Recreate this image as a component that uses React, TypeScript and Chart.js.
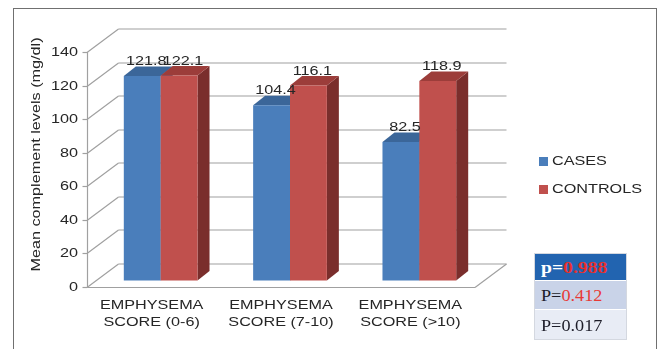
import { useEffect, useRef } from "react";
import { Chart, registerables } from "chart.js";

Chart.register(...registerables);

// ---- data ----
const categories: string[][] = [
  ["EMPHYSEMA", "SCORE (0-6)"],
  ["EMPHYSEMA", "SCORE (7-10)"],
  ["EMPHYSEMA", "SCORE (>10)"],
];
const seriesNames = ["CASES", "CONTROLS"];
const casesValues = [121.8, 104.4, 82.5];
const controlsValues = [122.1, 116.1, 118.9];
const yMax = 140;
const yStep = 20;
const yTitle = "Mean complement levels (mg/dl)";
const pPrefixes = ["p=", "P=", "P="];
const pValues = ["0.988", "0.412", "0.017"];

// ---- styling ----
const W = 661;
const H = 349;
const FONT = '"Liberation Sans", Arial, sans-serif';
const TEXT_STRETCH = 1.2;
const GRID = "#a0a0a0";
const TEXT = "#262626";
// colours per series: front, top, side
const faces = [
  { front: "#4a7ebb", top: "#3b6699", side: "#2f5380" },
  { front: "#c0504d", top: "#9c3d3a", side: "#7a2e2c" },
];
// depth of the chart box and of the bars
const DX = 31.5;
const DY = -23.5;
const FX = 9;
const FY = -6.5;
const SX = 12;
const SY = -9.5;

function wideText(
  ctx: CanvasRenderingContext2D,
  text: string,
  x: number,
  y: number,
  align: CanvasTextAlign,
  baseline: CanvasTextBaseline
) {
  ctx.save();
  ctx.translate(x, y);
  ctx.scale(TEXT_STRETCH, 1);
  ctx.textAlign = align;
  ctx.textBaseline = baseline;
  ctx.fillText(text, 0, 0);
  ctx.restore();
}

function line(ctx: CanvasRenderingContext2D, x0: number, y0: number, x1: number, y1: number) {
  ctx.beginPath();
  ctx.moveTo(x0, y0);
  ctx.lineTo(x1, y1);
  ctx.stroke();
}

function poly(ctx: CanvasRenderingContext2D, pts: number[][], fill: string) {
  ctx.beginPath();
  ctx.moveTo(pts[0][0], pts[0][1]);
  for (let i = 1; i < pts.length; i++) ctx.lineTo(pts[i][0], pts[i][1]);
  ctx.closePath();
  ctx.fillStyle = fill;
  ctx.fill();
}

const box3d = {
  id: "box3d",
  beforeDatasetsDraw(chart: any) {
    const { ctx, chartArea: a, scales } = chart;
    const y = scales.y;
    ctx.save();
    ctx.strokeStyle = GRID;
    ctx.lineWidth = 1.2;
    ctx.font = `13.5px ${FONT}`;
    ctx.fillStyle = TEXT;

    // back wall grid, side wall diagonals, tick marks and tick labels
    y.ticks.forEach((t: any) => {
      const py = Math.round(y.getPixelForValue(t.value)) + 0.5;
      line(ctx, a.left + DX, py + DY, a.right + DX, py + DY);
      line(ctx, a.left, py, a.left + DX, py + DY);
      line(ctx, a.left - 4.5, py, a.left, py);
      wideText(ctx, String(t.value), a.left - 9, py, "right", "middle");
    });
    // front vertical axis and floor
    const bx = Math.round(a.left) + 0.5;
    const by = Math.round(a.bottom) + 0.5;
    line(ctx, bx, a.top, bx, by);
    line(ctx, bx, by, a.right, by);
    line(ctx, a.right, by, a.right + DX, by + DY);

    // 3D bars
    const n = chart.data.labels.length;
    for (let i = 0; i < n; i++) {
      chart.data.datasets.forEach((ds: any, d: number) => {
        const el = chart.getDatasetMeta(d).data[i];
        const c = faces[d];
        const x0 = el.x - el.width / 2 + FX;
        const x1 = x0 + el.width;
        const yt = el.y + FY;
        const yb = el.base + FY;
        poly(ctx, [[x1, yb], [x1 + SX, yb + SY], [x1 + SX, yt + SY], [x1, yt]], c.side);
        poly(ctx, [[x0, yt], [x0 + SX, yt + SY], [x1 + SX, yt + SY], [x1, yt]], c.top);
        poly(ctx, [[x0, yt], [x1, yt], [x1, yb], [x0, yb]], c.front);
      });
    }
    // value labels above each bar
    ctx.fillStyle = TEXT;
    for (let i = 0; i < n; i++) {
      chart.data.datasets.forEach((ds: any, d: number) => {
        const el = chart.getDatasetMeta(d).data[i];
        const cx = el.x + FX + SX / 2 - 2;
        const ty = el.y + FY + SY - 1.5;
        wideText(ctx, ds.data[i].toFixed(1), cx, ty, "center", "alphabetic");
      });
    }
    ctx.restore();
    return false;
  },
  afterDraw(chart: any) {
    const { ctx, chartArea: a, scales } = chart;
    const x = scales.x;
    ctx.save();
    ctx.fillStyle = TEXT;
    ctx.font = `13.5px ${FONT}`;
    // category labels
    chart.data.labels.forEach((lab: string[], i: number) => {
      const px = x.getPixelForTick(i);
      lab.forEach((s, k) => wideText(ctx, s, px, a.bottom + 18 + k * 17, "center", "middle"));
    });
    // y axis title
    ctx.save();
    ctx.translate(36.5, 154.5);
    ctx.rotate(-Math.PI / 2);
    wideText(ctx, yTitle, 0, 0, "center", "middle");
    ctx.restore();
    // legend
    chart.data.datasets.forEach((ds: any, d: number) => {
      const cy = 161.5 + d * 28;
      ctx.fillStyle = ds.backgroundColor;
      ctx.fillRect(539, cy - 4.5, 9, 9);
      ctx.fillStyle = TEXT;
      wideText(ctx, ds.label, 552, cy, "left", "middle");
    });
    ctx.restore();
  },
};

export default function App() {
  const ref = useRef<HTMLCanvasElement | null>(null);

  useEffect(() => {
    if (!ref.current) return;
    const chart = new Chart(ref.current, {
      type: "bar",
      data: {
        labels: categories,
        datasets: [
          { label: seriesNames[0], data: casesValues, backgroundColor: faces[0].front },
          { label: seriesNames[1], data: controlsValues, backgroundColor: faces[1].front },
        ],
      },
      options: {
        responsive: false,
        animation: false,
        devicePixelRatio: 1,
        layout: { padding: { top: 52, right: 186, bottom: 0, left: 0 } },
        datasets: { bar: { categoryPercentage: 0.57, barPercentage: 1 } },
        plugins: { legend: { display: false }, tooltip: { enabled: false } },
        scales: {
          x: {
            grid: { display: false },
            border: { display: false },
            ticks: { display: false },
            afterFit: (s: any) => {
              s.height = 62;
            },
          },
          y: {
            min: 0,
            max: yMax,
            ticks: { display: false, stepSize: yStep },
            grid: { display: false },
            border: { display: false },
            afterFit: (s: any) => {
              s.width = 87;
            },
          },
        },
      } as any,
      plugins: [box3d],
    });
    return () => chart.destroy();
  }, []);

  const rowBg = ["#2264b0", "#c9d3e8", "#e8ecf5"];
  const rowH = [26, 29, 30];
  const prefixColor = ["#ffffff", "#1c1c28", "#1c1c28"];
  const valueColor = ["#e8302c", "#e83a36", "#1c1c28"];

  return (
    <div
      style={{
        position: "fixed",
        left: 0,
        top: 0,
        width: W,
        height: H,
        overflow: "hidden",
        background: "#ffffff",
      }}
    >
      <canvas ref={ref} width={W} height={H} style={{ position: "absolute", left: 0, top: 0 }} />
      <div
        style={{
          position: "absolute",
          left: 12.5,
          top: 7.5,
          width: 644,
          height: 400,
          border: "1.5px solid #707070",
          boxSizing: "border-box",
          pointerEvents: "none",
        }}
      />
      <div
        style={{
          position: "absolute",
          left: 534,
          top: 253,
          width: 91,
          border: "1px solid #d4d8e0",
          fontFamily: '"Liberation Serif", "DejaVu Serif", serif',
          fontSize: 17.5,
        }}
      >
        {pValues.map((v, i) => (
          <div
            key={i}
            style={{
              height: rowH[i],
              lineHeight: `${rowH[i]}px`,
              background: rowBg[i],
              paddingLeft: 6,
              fontWeight: i === 0 ? "bold" : "normal",
              borderTop: i > 0 ? "1px solid #ffffff" : "none",
              boxSizing: "border-box",
              whiteSpace: "nowrap",
            }}
          >
            <span
              style={{
                display: "inline-block",
                transform: `scaleX(${i === 0 ? 1.12 : 1.04})`,
                transformOrigin: "0 50%",
              }}
            >
              <span style={{ color: prefixColor[i] }}>{pPrefixes[i]}</span>
              <span style={{ color: valueColor[i] }}>{v}</span>
            </span>
          </div>
        ))}
      </div>
    </div>
  );
}
